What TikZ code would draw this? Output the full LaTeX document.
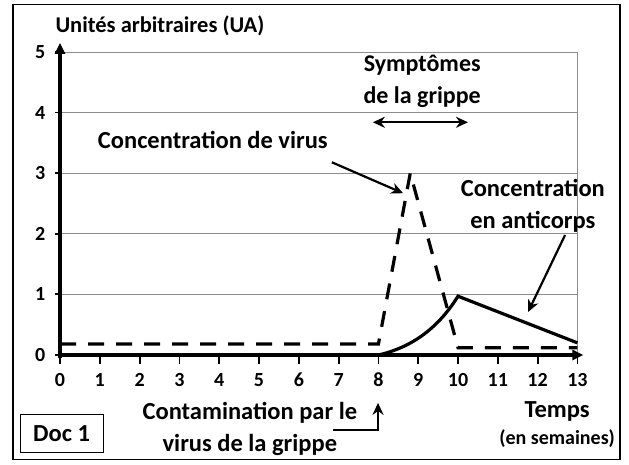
\documentclass[tikz,border=0pt]{standalone}
\usepackage{fontspec}
\setmainfont{Carlito}
\usetikzlibrary{arrows.meta}
\colorlet{fg}{black}
\colorlet{grid}{black!45}

\tikzset{
  axis/.style={fg, line width=3.2pt, -{Triangle[length=11pt,width=10pt]}},
  gridline/.style={grid, line width=0.7pt},
  virus/.style={fg, line width=3.2pt, dash pattern=on 16pt off 12pt},
  anticorps/.style={fg, line width=3.2pt},
  pointer/.style={fg, line width=2.2pt, -{Stealth[length=12pt,width=11pt]}},
  label/.style={font=\bfseries\fontsize{24.5}{32}\selectfont, align=center, inner sep=1pt},
  ticklabel/.style={font=\bfseries\fontsize{20}{22}\selectfont, inner sep=1pt, text height=13pt, text depth=0pt},
}

\begin{document}
\begin{tikzpicture}[x=39.8pt, y=60.6pt]
	    \useasboundingbox (-1.508,-1.799) rectangle (14.296,5.858);
	    \draw[line width=1.2pt] (-1.18,-1.73) rectangle (14.07,5.78);
	    % grid
	    \foreach \y in {1,...,5}
	      \draw[gridline] (0,\y) -- (13,\y);
	    \draw[gridline] (13,0) -- (13,5);
	    % ticks and axes
	    \foreach \x in {0,...,13} {
	      \draw[line width=1.8pt] (\x,0) -- (\x,-0.15);
	      \node[ticklabel] (tx\x) at (\x,-0.42) {\x};
	    }
	    \foreach \y in {0,...,5} {
	      \draw[line width=1.8pt] (-0.12,\y) -- (0,\y);
	      \node[ticklabel] (ty\y) at (-0.5,\y) {\y};
	    }
	    \draw[axis] (0,-0.05) -- (0,5.15);
	    \draw[axis] (-0.05,0) -- (13.15,0);
	    % curves
	    \draw[virus] (0,0.18) -- (8,0.18) -- (8.8,3) -- (10,0.12) -- (13,0.12);
	    \draw[anticorps] (8,0) .. controls (9,0.15) and (9.6,0.55) .. (10,0.97) -- (13,0.2);
	    % labels
	    \node[label, font=\bfseries\fontsize{22.5}{28}\selectfont] (titre) at (2.51,5.43) {Unités arbitraires (UA)};
	    \node[label] (virus) at (3.84,3.55) {Concentration de virus};
	    \node[label, font=\bfseries\fontsize{24}{32}\selectfont] (symptomes) at (9.1,4.52) {Symptômes\\de la grippe};
	    \node[label] (anticorps) at (11.88,2.46) {Concentration\\en anticorps};
	    \node[label] (contamination) at (4.77,-1.22) {Contamination par le\\virus de la grippe};
	    \node[label] (temps) at (12.49,-0.94) {Temps};
	    \node[ticklabel, text height=] (semaines) at (12.49,-1.35) {(en semaines)};
	    \node[label, draw, line width=1.2pt, minimum width=83pt, minimum height=38pt] (doc) at (0.04,-1.30) {Doc 1};
	    % pointers
	    \coordinate (debut) at (7.86,3.84);
	    \coordinate (fin) at (10.25,3.84);
	    \draw[pointer, {Stealth[length=12pt,width=11pt]}-{Stealth[length=12pt,width=11pt]}] (debut) -- (fin);
	    \coordinate (v1) at (6.83,3.18);
	    \coordinate (v2) at (8.62,2.67);
	    \draw[pointer] (v1) -- (v2);
	    \coordinate (a1) at (12.69,1.98);
	    \coordinate (a2) at (11.76,0.71);
	    \draw[pointer] (a1) -- (a2);
	    \coordinate (c1) at (6.86,-1.24);
	    \coordinate (c2) at (7.99,-0.79);
	    \draw[pointer] (c1) -| (c2);
        \end{tikzpicture}
\end{document}
